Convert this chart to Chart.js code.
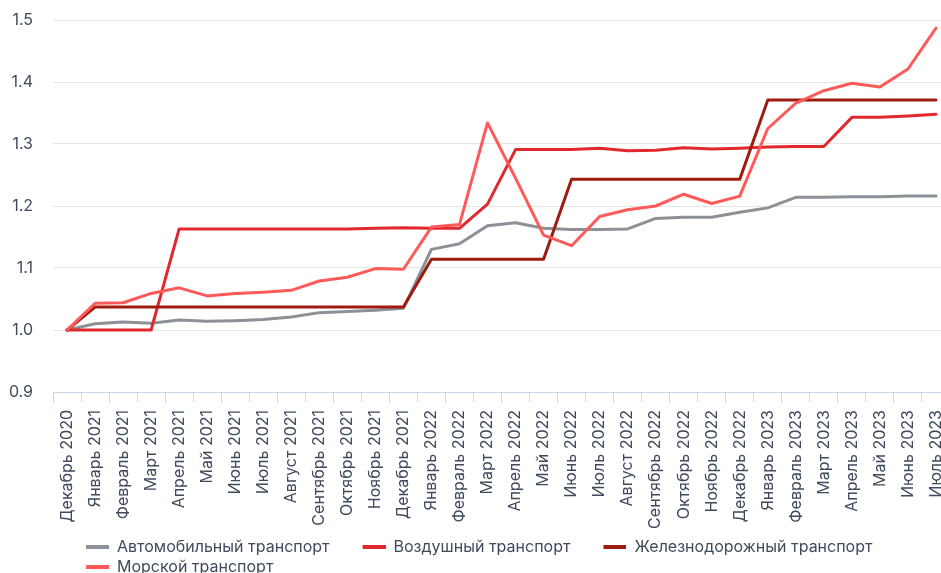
<!DOCTYPE html>
<html>
<head>
<meta charset="utf-8">
<script src="https://cdn.jsdelivr.net/npm/chart.js@4.4.1/dist/chart.umd.min.js"></script>
<style>
  html, body { margin: 0; padding: 0; background: #ffffff; overflow: hidden; }
  canvas { display: block; }
</style>
</head>
<body>
<canvas id="chart" width="952" height="586"></canvas>
<script>
const categories = [
  'Декабрь 2020', 'Январь 2021', 'Февраль 2021', 'Март 2021', 'Апрель 2021', 'Май 2021',
  'Июнь 2021', 'Июль 2021', 'Август 2021', 'Сентябрь 2021', 'Октябрь 2021', 'Ноябрь 2021',
  'Декабрь 2021', 'Январь 2022', 'Февраль 2022', 'Март 2022', 'Апрель 2022', 'Май 2022',
  'Июнь 2022', 'Июль 2022', 'Август 2022', 'Сентябрь 2022', 'Октябрь 2022', 'Ноябрь 2022',
  'Декабрь 2022', 'Январь 2023', 'Февраль 2023', 'Март 2023', 'Апрель 2023', 'Май 2023',
  'Июнь 2023', 'Июль 2023'
];

const seriesNames = ['Автомобильный транспорт', 'Воздушный транспорт', 'Железнодорожный транспорт', 'Морской транспорт'];

const autoValues = [
  1.000, 1.010, 1.013, 1.011, 1.016, 1.014, 1.015, 1.017, 1.021, 1.028, 1.030, 1.032,
  1.035, 1.130, 1.139, 1.168, 1.173, 1.164, 1.162, 1.162, 1.163, 1.180, 1.182, 1.182,
  1.190, 1.197, 1.214, 1.214, 1.215, 1.215, 1.216, 1.216
];

const airValues = [
  1.000, 1.000, 1.000, 1.000, 1.163, 1.163, 1.163, 1.163, 1.163, 1.163, 1.163, 1.164,
  1.165, 1.164, 1.164, 1.203, 1.291, 1.291, 1.291, 1.293, 1.289, 1.290, 1.294, 1.292,
  1.293, 1.295, 1.296, 1.296, 1.343, 1.343, 1.345, 1.348
];

const railValues = [
  1.000, 1.037, 1.037, 1.037, 1.037, 1.037, 1.037, 1.037, 1.037, 1.037, 1.037, 1.037,
  1.037, 1.114, 1.114, 1.114, 1.114, 1.114, 1.243, 1.243, 1.243, 1.243, 1.243, 1.243,
  1.243, 1.371, 1.371, 1.371, 1.371, 1.371, 1.371, 1.371
];

const seaValues = [
  1.000, 1.043, 1.044, 1.059, 1.068, 1.055, 1.059, 1.061, 1.064, 1.079, 1.085, 1.099,
  1.098, 1.166, 1.170, 1.334, 1.245, 1.153, 1.136, 1.183, 1.194, 1.200, 1.219, 1.204,
  1.216, 1.325, 1.366, 1.386, 1.398, 1.392, 1.421, 1.487
];

const seriesColors = ['#8b9196', '#e0282e', '#9e1b10', '#ff5a5a'];
const textColor = '#3f4a5c';
const fontFamily = 'Inter, Roboto, sans-serif';

const symbolBoxWidth = 52;
function legendSymbol(color) {
  const c = document.createElement('canvas');
  c.width = symbolBoxWidth; c.height = 4;
  const g = c.getContext('2d');
  g.fillStyle = color;
  g.fillRect(symbolBoxWidth - 23, 0, 23, 4);
  return c;
}
const symbols = seriesColors.map(legendSymbol);

const allSeries = [autoValues, airValues, railValues, seaValues];
const datasets = allSeries.map((vals, i) => ({
  label: seriesNames[i],
  data: vals,
  borderColor: seriesColors[i],
  backgroundColor: seriesColors[i],
  borderWidth: 3,
  pointRadius: 0,
  pointHoverRadius: 0,
  tension: 0,
  fill: false,
  borderJoinStyle: 'round',
  borderCapStyle: 'round',
  order: allSeries.length - i
}));

new Chart(document.getElementById('chart').getContext('2d'), {
  type: 'line',
  data: { labels: categories, datasets: datasets },
  options: {
    responsive: false,
    animation: false,
    layout: { padding: { top: 20, left: 0, right: 2, bottom: 1 } },
    plugins: {
      tooltip: { enabled: false },
      legend: {
        position: 'bottom',
        align: 'start',
        fullSize: false,
        labels: {
          usePointStyle: true,
          pointStyleWidth: symbolBoxWidth,
          boxHeight: 4,
          padding: 4,
          color: textColor,
          font: { family: fontFamily, size: 16 },
          sort: (a, b) => a.datasetIndex - b.datasetIndex,
          generateLabels: (chart) => {
            const items = Chart.defaults.plugins.legend.labels.generateLabels(chart);
            items.forEach(it => { it.pointStyle = symbols[it.datasetIndex]; });
            return items;
          }
        }
      }
    },
    scales: {
      x: {
        offset: true,
        grid: { offset: true, drawOnChartArea: false, drawTicks: true, tickLength: 10, color: '#ccd6eb' },
        border: { display: true, color: '#ccd6eb' },
        ticks: {
          autoSkip: false, maxRotation: 90, minRotation: 90, padding: 8,
          color: textColor, font: { family: fontFamily, size: 16 }
        },
        afterFit: (scale) => { scale.height = 143; scale.paddingLeft = 0; scale.paddingRight = 0; }
      },
      y: {
        min: 0.9, max: 1.5,
        grid: { color: '#e6e6e6', drawTicks: false },
        border: { display: false },
        ticks: {
          stepSize: 0.1, padding: 20,
          color: textColor, font: { family: fontFamily, size: 16 },
          callback: (v) => Number(v).toFixed(1)
        },
        afterFit: (scale) => { scale.width = 53; scale.paddingTop = 0; scale.paddingBottom = 0; }
      }
    }
  }
});
</script>
</body>
</html>
